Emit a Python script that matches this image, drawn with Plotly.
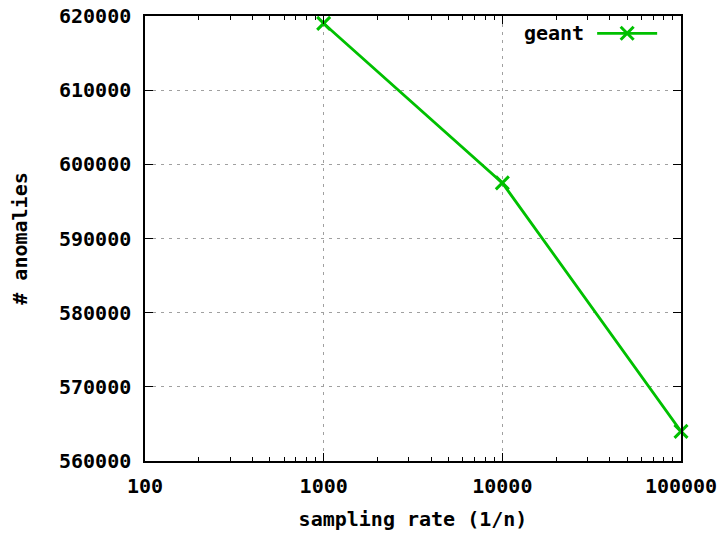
import plotly.graph_objects as go

sampling_rate = [1000, 10000, 100000]
anomalies = [619000, 597500, 564000]
series_name = "geant"
x_title = "sampling rate (1/n)"
y_title = "# anomalies"
x_tickvals = [100, 1000, 10000, 100000]
x_ticktext = ["100", "1000", "10000", "100000"]
y_tickvals = [560000, 570000, 580000, 590000, 600000, 610000, 620000]

FONT = dict(family="DejaVu Sans Mono", size=20, color="black", weight="bold")
GREEN = "#00c000"

fig = go.Figure()
fig.add_trace(go.Scatter(
    x=sampling_rate, y=anomalies, mode="lines+markers", name=" ",
    line=dict(color=GREEN, width=2.8),
    marker=dict(symbol="x-thin", size=13, line=dict(color=GREEN, width=3)),
    cliponaxis=False,
))

axis_common = dict(
    showline=True, linecolor="black", linewidth=1.5, mirror="allticks",
    ticks="inside", ticklen=8, tickcolor="black", tickwidth=1.2,
    showgrid=True, gridcolor="#a0a0a0", gridwidth=1, griddash="3px,5px",
    zeroline=False, tickfont=FONT, automargin=False,
)

fig.update_xaxes(
    type="log", range=[2, 5], tickvals=x_tickvals, ticktext=x_ticktext,
    title=dict(text=x_title, font=FONT, standoff=15),
    ticklabelstandoff=6,
    minor=dict(ticks="inside", ticklen=4, tickcolor="black", tickwidth=1.2,
               dtick="D1", showgrid=False),
    **axis_common,
)
fig.update_yaxes(
    range=[560000, 620000], tickvals=y_tickvals, tickformat="d",
    title=dict(text=y_title, font=FONT, standoff=26),
    ticklabelstandoff=8,
    **axis_common,
)

fig.update_layout(
    width=721, height=534,
    margin=dict(l=145, r=40, t=16, b=73),
    paper_bgcolor="white", plot_bgcolor="white",
    showlegend=True,
    legend=dict(
        x=0.998, y=1.005, xanchor="right", yanchor="top",
        bgcolor="rgba(0,0,0,0)", borderwidth=0,
        title=dict(text=series_name, side="left", font=FONT),
        font=FONT, itemwidth=60,
    ),
)

fig.write_html("out.html")
